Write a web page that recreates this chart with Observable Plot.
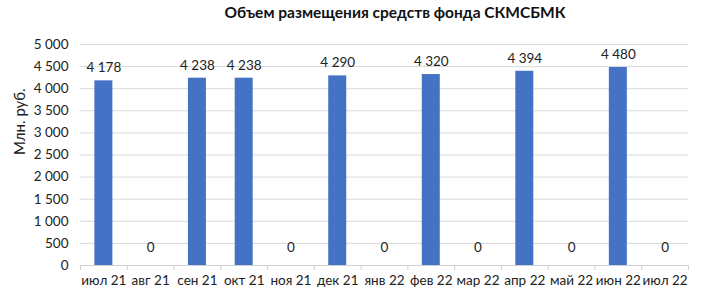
<!DOCTYPE html>
<html>
<head>
<meta charset="utf-8">
<script src="https://cdn.jsdelivr.net/npm/d3@7"></script>
<script src="https://cdn.jsdelivr.net/npm/@observablehq/plot@0.6"></script>
<style>
  html, body { margin: 0; padding: 0; background: #fff; }
  #wrap { position: relative; width: 708px; height: 294px; }
  #title { position: absolute; top: 3px; left: 0; width: 790px; text-align: center;
           font-family: Lato, "Open Sans", sans-serif; font-weight: bold; font-size: 15.5px; color: #111; }
</style>
</head>
<body>
<div id="wrap"><div id="title">Объем размещения средств фонда СКМСБМК</div></div>
<script>
const months = ["июл 21", "авг 21", "сен 21", "окт 21", "ноя 21", "дек 21", "янв 22", "фев 22", "мар 22", "апр 22", "май 22", "июн 22", "июл 22"];
const values = [4178, 0, 4238, 4238, 0, 4290, 0, 4320, 0, 4394, 0, 4480, 0];
const yTicks = [0, 500, 1000, 1500, 2000, 2500, 3000, 3500, 4000, 4500, 5000];
const yLabel = "Млн. руб.";

const data = months.map((m, i) => ({month: m, value: values[i]}));
const fmt = v => d3.format(",")(v).replace(/,/g, " ");

const W = 708, H = 294, mL = 80, mR = 20, mT = 44, mB = 29;
const step = (W - mL - mR) / months.length;
const barW = 18;
const inset = (step - barW) / 2;

const chart = Plot.plot({
  width: W, height: H,
  marginLeft: mL, marginRight: mR, marginTop: mT, marginBottom: mB,
  style: {fontFamily: "Lato, 'Open Sans', sans-serif", fontSize: "13px", color: "#222", background: "#fff"},
  x: {domain: months, padding: 0, round: false, axis: null},
  y: {domain: [0, 5000], axis: null},
  marks: [
    Plot.gridY(yTicks, {stroke: "#d9d9d9", strokeOpacity: 1}),
    Plot.axisY(yTicks, {tickSize: 0, tickPadding: 12, tickFormat: fmt, label: null, fontSize: 13.5}),
    Plot.text([yLabel], {frameAnchor: "left", rotate: -90, dx: -60, fontSize: 15, fill: "#222"}),
    Plot.barY(data, {x: "month", y: "value", fill: "#4472c4", insetLeft: inset, insetRight: inset}),
    Plot.ruleY([0], {stroke: "#d0d0d0"}),
    Plot.axisX(months, {tickSize: 5, dx: -step / 2, tickFormat: () => "", label: null, stroke: "#d0d0d0"}),
    Plot.axisX([months[months.length - 1]], {tickSize: 5, dx: step / 2, tickFormat: () => "", label: null, stroke: "#d0d0d0"}),
    Plot.axisX(months, {tickSize: 0, tickPadding: 10, label: null, fontSize: 13.5}),
    Plot.text(data.filter(d => d.value > 0), {x: "month", y: "value", text: d => fmt(d.value), dy: -13, fontSize: 13.5}),
    Plot.text(data.filter(d => d.value === 0), {x: "month", y: "value", text: d => fmt(d.value), dy: -18, fontSize: 13.5})
  ]
});
document.getElementById("wrap").prepend(chart);
</script>
</body>
</html>
